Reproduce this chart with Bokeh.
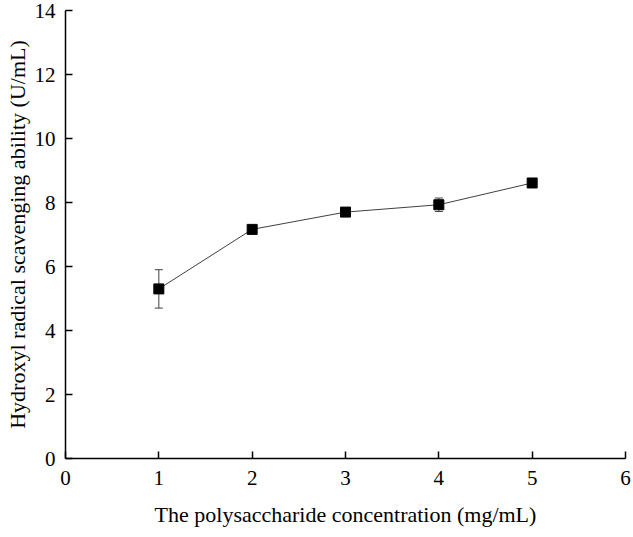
from bokeh.plotting import figure
from bokeh.models import ColumnDataSource, Whisker, TeeHead, Range1d, FixedTicker
from bokeh.embed import file_html
from bokeh.resources import INLINE

conc = [1, 2, 3, 4, 5]
ability = [5.30, 7.16, 7.70, 7.93, 8.61]
err = [0.60, 0.08, 0.05, 0.21, 0.05]
x_ticks = [0, 1, 2, 3, 4, 5, 6]
y_ticks = [0, 2, 4, 6, 8, 10, 12, 14]

src = ColumnDataSource(dict(
    x=conc, y=ability,
    lo=[a - e for a, e in zip(ability, err)],
    hi=[a + e for a, e in zip(ability, err)],
))

FONT = "Liberation Serif"

p = figure(width=631, height=529, output_backend="svg", toolbar_location=None,
           x_range=Range1d(0, 6), y_range=Range1d(0, 14),
           min_border_left=65, min_border_right=6, min_border_top=10, min_border_bottom=68)
p.outline_line_color = None
p.xgrid.visible = False
p.ygrid.visible = False
p.background_fill_color = "white"
p.border_fill_color = "white"

p.line("x", "y", source=src, line_color="#404040", line_width=1)
w = Whisker(source=src, base="x", upper="hi", lower="lo",
            line_color="#404040", line_width=1,
            upper_head=TeeHead(size=8, line_color="#404040", line_width=1),
            lower_head=TeeHead(size=8, line_color="#404040", line_width=1))
p.add_layout(w)
p.scatter("x", "y", source=src, marker="square", size=10, color="black")

for ax in (p.xaxis[0], p.yaxis[0]):
    ax.axis_line_color = "black"
    ax.axis_line_width = 1.5
    ax.major_tick_line_color = "black"
    ax.major_tick_line_width = 1.5
    ax.major_tick_in = 7
    ax.major_tick_out = 0
    ax.minor_tick_line_color = None
    ax.major_label_text_font = FONT
    ax.major_label_text_font_size = "21px"
    ax.major_label_text_color = "black"
    ax.axis_label_text_font = FONT
    ax.axis_label_text_font_size = "22px"
    ax.axis_label_text_font_style = "normal"
    ax.axis_label_text_color = "black"

p.xaxis.ticker = FixedTicker(ticks=x_ticks)
p.yaxis.ticker = FixedTicker(ticks=y_ticks)
p.xaxis.axis_label = "The polysaccharide concentration (mg/mL)"
p.yaxis.axis_label = "Hydroxyl radical scavenging ability (U/mL)"
p.xaxis.major_label_standoff = 12
p.yaxis.major_label_standoff = 10
p.xaxis.axis_label_standoff = 14
p.yaxis.axis_label_standoff = 2

open("out.html", "w").write(file_html(p, INLINE))
